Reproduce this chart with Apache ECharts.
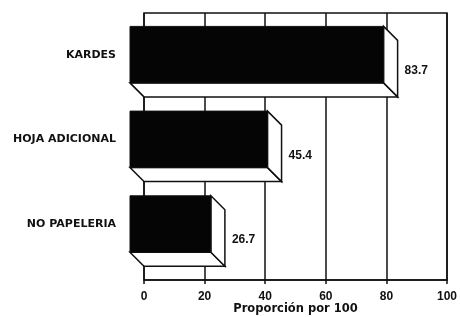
<!DOCTYPE html>
<html>
<head>
<meta charset="utf-8">
<script src="https://cdn.jsdelivr.net/npm/echarts@6/dist/echarts.min.js"></script>
<style>html,body{margin:0;padding:0;background:#fff;}#c{width:460px;height:317px;}</style>
</head>
<body>
<div id="c"></div>
<script>
var categories = ['KARDES', 'HOJA ADICIONAL', 'NO PAPELERIA'];
var values = [83.7, 45.4, 26.7];
var xMin = 0, xMax = 100, xStep = 20;
var axisTitle = 'Proporción por 100';

var chart = echarts.init(document.getElementById('c'), null, {renderer: 'canvas'});
var data = values.map(function (v, i) { return [v, i]; });
var D = 14;
var ink = '#111';

function renderBar(params, api) {
  var v = api.value(0), idx = api.value(1);
  var p0 = api.coord([0, idx]);
  var p1 = api.coord([v, idx]);
  var band = api.size([0, 1])[1];
  var h = band * 0.667;
  var X0 = p0[0], X1 = p1[0], cy = p0[1];
  var fy0 = cy - h / 2, fy1 = cy + h / 2;
  var by0 = fy0 + D, by1 = fy1 + D;
  var st = {stroke: ink, lineWidth: 1.5, fill: '#fff', lineJoin: 'miter'};
  return {
    type: 'group',
    children: [
      {type: 'polygon', shape: {points: [[X0 - D, fy1], [X1 - D, fy1], [X1, by1], [X0, by1]]}, style: st},
      {type: 'polygon', shape: {points: [[X1 - D, fy0], [X1, by0], [X1, by1], [X1 - D, fy1]]}, style: st},
      {type: 'rect', shape: {x: X0 - D, y: fy0, width: X1 - X0, height: h}, style: {fill: '#050505', stroke: ink, lineWidth: 1}},
      {type: 'text', x: X1 + 7, y: (by0 + by1) / 2 + 2,
        style: {text: v.toFixed(1), fill: ink, font: 'bold 12px "Liberation Sans", Arial, sans-serif', textAlign: 'left', textVerticalAlign: 'middle'}}
    ]
  };
}

chart.setOption({
  animation: false,
  backgroundColor: '#fff',
  grid: [
    {left: 144, right: 13, top: 12.3, height: 254.1, show: false, containLabel: false, outerBoundsMode: 'none'},
    {left: 144, right: 13, top: 13, bottom: 37, show: true, borderColor: ink, borderWidth: 1.5, backgroundColor: 'transparent', containLabel: false, outerBoundsMode: 'none'}
  ],
  xAxis: [
    {gridIndex: 0, type: 'value', min: xMin, max: xMax, interval: xStep, show: false},
    {gridIndex: 1, type: 'value', min: xMin, max: xMax, interval: xStep,
      axisLine: {show: true, lineStyle: {color: ink, width: 1.5}},
      axisTick: {show: true, length: 4, lineStyle: {color: ink, width: 1.5}},
      splitLine: {show: true, lineStyle: {color: ink, width: 1.5}},
      axisLabel: {color: ink, fontFamily: '"Liberation Sans", Arial, sans-serif', fontWeight: 'bold', fontSize: 12, margin: 11},
      name: axisTitle, nameLocation: 'middle', nameGap: 23, nameMoveOverlap: false,
      nameTextStyle: {color: ink, fontFamily: '"DejaVu Sans", sans-serif', fontWeight: 'bold', fontSize: 11.5, verticalAlign: 'top'}
    }
  ],
  yAxis: [
    {gridIndex: 0, type: 'category', data: categories, inverse: true, offset: 15,
      axisLine: {show: false},
      axisTick: {show: true, alignWithLabel: true, length: 4, lineStyle: {color: ink, width: 1.2}},
      splitLine: {show: false},
      axisLabel: {color: ink, fontFamily: '"DejaVu Sans", sans-serif', fontWeight: 'bold', fontSize: 11, margin: 13}
    },
    {gridIndex: 1, type: 'value', show: false, min: 0, max: 1}
  ],
  series: [
    {type: 'custom', xAxisIndex: 0, yAxisIndex: 0, data: data, renderItem: renderBar, clip: false, z: 5}
  ]
});
</script>
</body>
</html>
